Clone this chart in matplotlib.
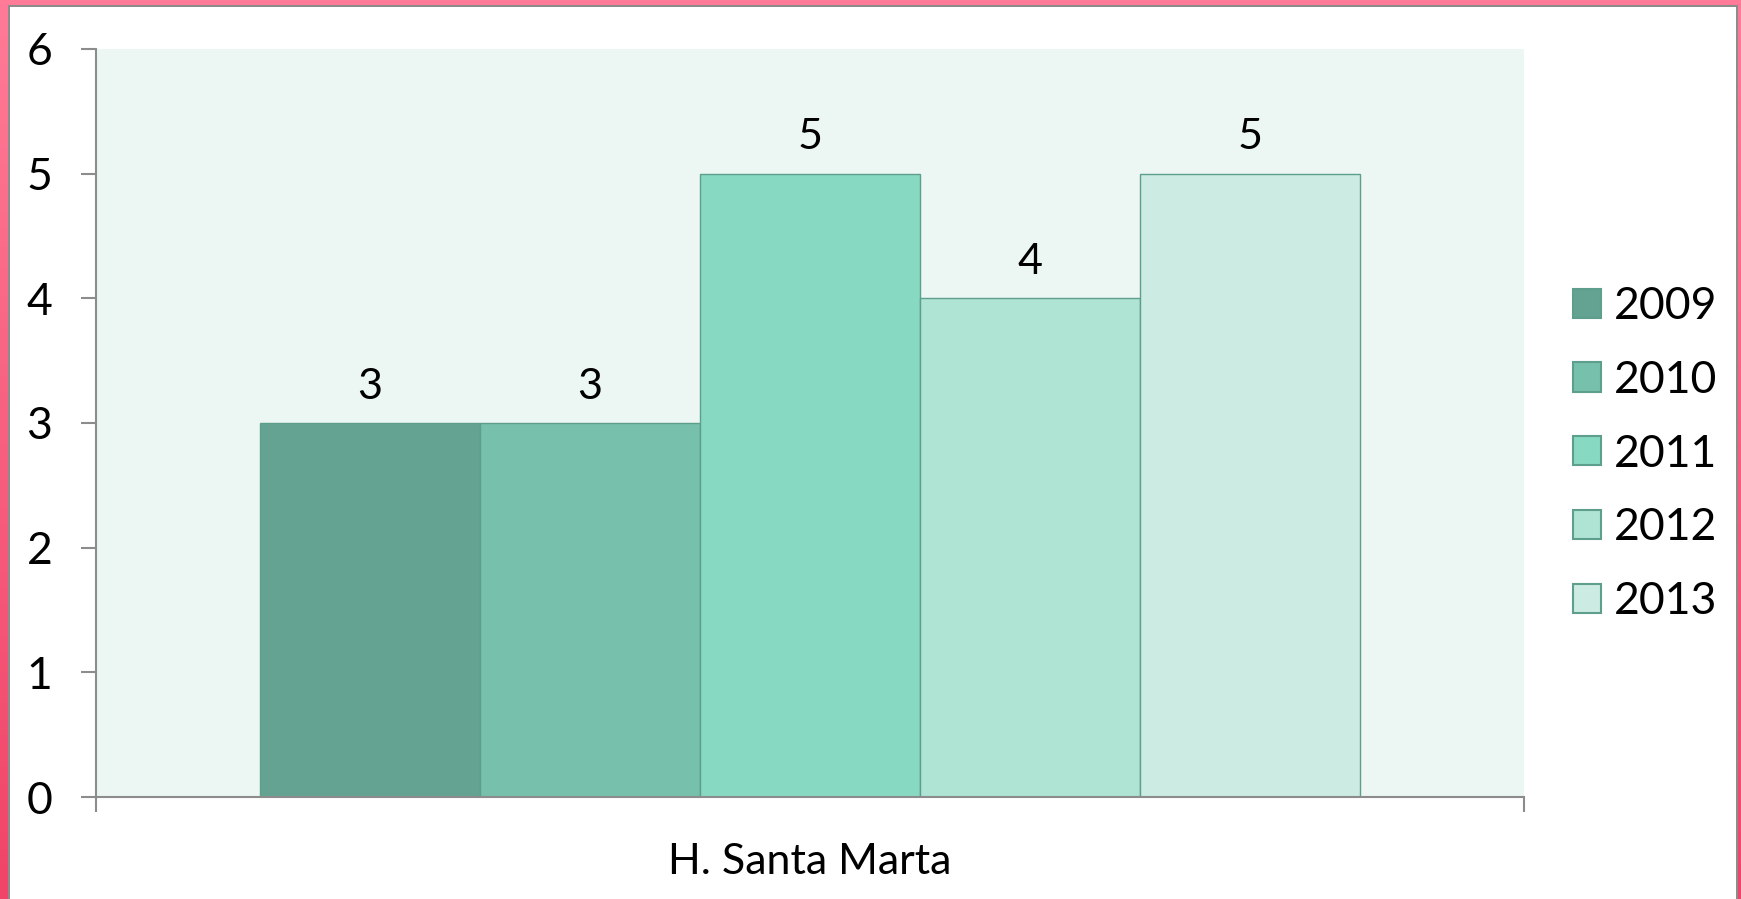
import numpy as np
import matplotlib
matplotlib.use("Agg")
import matplotlib.pyplot as plt
from matplotlib.patches import Rectangle, Patch
from matplotlib.colors import LinearSegmentedColormap

plt.rcParams['font.family'] = ['Lato', 'DejaVu Sans']

# Data
category = "H. Santa Marta"
years = ["2009", "2010", "2011", "2012", "2013"]
values = [3, 3, 5, 4, 5]
colors = ["#64A392", "#77C0AC", "#88D9C2", "#AFE3D4", "#CCEBE2"]

W, H = 1741, 899
fig = plt.figure(figsize=(W / 100, H / 100), dpi=100)

# pink gradient frame behind everything
bg = fig.add_axes([0, 0, 1, 1], zorder=-10)
grad = np.linspace(0, 1, 256).reshape(-1, 1)
cmap = LinearSegmentedColormap.from_list("pink", ["#FF7B97", "#F04468"])
bg.imshow(grad, aspect="auto", cmap=cmap, extent=[0, 1, 0, 1])
bg.add_patch(Rectangle((8 / W, -0.01), (1738 - 8) / W, 1 + 0.01 - 5 / H,
                       facecolor="#8C8C8C", edgecolor="none"))
bg.add_patch(Rectangle((10 / W, -0.01), (1736 - 10) / W, 1 + 0.01 - 7 / H,
                       facecolor="white", edgecolor="none"))
bg.set_xlim(0, 1)
bg.set_ylim(0, 1)
bg.axis("off")

ax = fig.add_axes([95.5 / W, 1 - 797 / H, (1524 - 95.5) / W, (797 - 48.9) / H])
ax.set_facecolor("#ECF6F2")

bw = 0.154
offsets = (np.arange(len(years)) - 2) * bw
for off, v, c, y in zip(offsets, values, colors, years):
    ax.bar(off, v, width=bw, color=c, edgecolor="#5E9E8C", linewidth=1.0, label=y)
    ax.annotate(str(v), (off, v), xytext=(0, 26), textcoords="offset points",
                ha="center", va="center", fontsize=31)

ax.set_xlim(-0.5, 0.5)
ax.set_ylim(0, 6)
ax.set_yticks(range(0, 7))
ax.tick_params(axis="y", length=11, width=1.5, color="#8C8C8C", labelsize=32, pad=20)
ax.set_xticks([0])
ax.set_xticklabels([category])
ax.tick_params(axis="x", length=0, labelsize=31, pad=33)
ax.set_xticks([-0.5, 0.5], minor=True)
ax.tick_params(axis="x", which="minor", length=11, width=1.5, color="#8C8C8C")

for s in ["top", "right"]:
    ax.spines[s].set_visible(False)
for s in ["left", "bottom"]:
    ax.spines[s].set_color("#8C8C8C")
    ax.spines[s].set_linewidth(1.5)

handles = [Patch(facecolor=c, edgecolor="#5E9E8C", linewidth=1.5, label=y)
           for c, y in zip(colors, years)]
fig.legend(handles=handles, loc="center left", bbox_to_anchor=(1573 / W, 1 - 454 / H),
           frameon=False, fontsize=32, handlelength=0.63, handleheight=0.63,
           labelspacing=0.74, handletextpad=0.3, borderpad=0, borderaxespad=0)

fig.savefig("out.png", dpi=100)
